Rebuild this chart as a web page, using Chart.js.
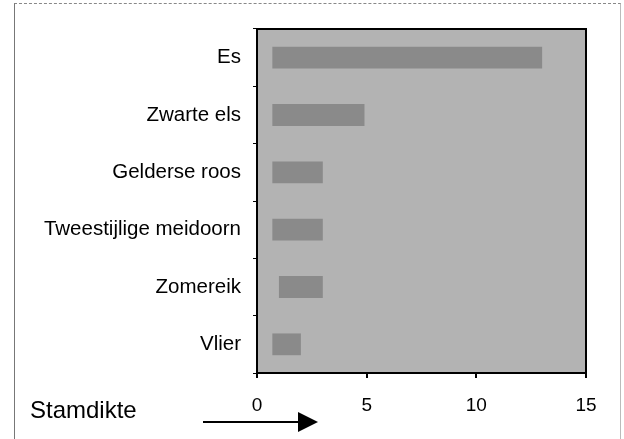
<!DOCTYPE html>
<html>
<head>
<meta charset="utf-8">
<script src="https://cdn.jsdelivr.net/npm/chart.js@4/dist/chart.umd.min.js"></script>
<style>
  html, body { margin: 0; padding: 0; background: #fff; }
  #wrap { position: relative; width: 624px; height: 439px; }
  #frame { position: absolute; left: 14px; top: 3px; width: 605px; height: 440px;
           border-left: 1px solid #777; border-top: 1px dashed #888; border-right: 1px solid #bbb; }
</style>
</head>
<body>
<div id="wrap">
  <div id="frame"></div>
  <canvas id="chart" width="624" height="439"></canvas>
</div>
<script>
// Soorten en stamdikte (begin - eind)
var soorten = ["Es", "Zwarte els", "Gelderse roos", "Tweestijlige meidoorn", "Zomereik", "Vlier"];
var stamStart = [0.7, 0.7, 0.7, 0.7, 1.0, 0.7];
var stamEind = [13, 4.9, 3, 3, 3, 2];
var xTicks = [0, 5, 10, 15];

var ranges = [];
for (var i = 0; i < soorten.length; i++) {
  ranges.push([stamStart[i], stamEind[i]]);
}

//Gray plot area, frame, and the "Stamdikte" arrow below the axis
var plotDecor = {
  id: 'plotDecor',
  beforeDatasetsDraw: function(chart) {
    var c = chart.ctx, a = chart.chartArea;
    c.save();
    c.fillStyle = '#b3b3b3';
    c.fillRect(a.left, a.top, a.right - a.left, a.bottom - a.top);
    c.restore();
  },
  afterDraw: function(chart) {
    var c = chart.ctx, a = chart.chartArea;
    c.save();
    c.strokeStyle = '#000';
    c.lineWidth = 2;
    c.strokeRect(a.left, a.top, a.right - a.left, a.bottom - a.top);

    c.fillStyle = '#000';
    c.font = '24px "Liberation Sans", Arial, sans-serif';
    c.textBaseline = 'middle';
    c.fillText('Stamdikte', 30, 411);

    c.lineWidth = 2;
    c.beginPath();
    c.moveTo(203, 422);
    c.lineTo(302, 422);
    c.stroke();
    c.beginPath();
    c.moveTo(298, 412);
    c.lineTo(318, 422);
    c.lineTo(298, 432);
    c.closePath();
    c.fill();
    c.restore();
  }
};

var ctx = document.getElementById('chart').getContext('2d');
var myChart = new Chart(ctx, {
  type: 'bar',
  data: {
    labels: soorten,
    datasets: [{
      label: 'Stamdikte',
      data: ranges,
      backgroundColor: '#8a8a8a',
      borderWidth: 0,
      barPercentage: 0.38,
      categoryPercentage: 1
    }]
  },
  options: {
    indexAxis: 'y',
    responsive: false,
    animation: false,
    layout: { padding: { left: 0, right: 38, top: 29, bottom: 16 } },
    plugins: { legend: { display: false }, tooltip: { enabled: false } },
    scales: {
      x: {
        min: 0,
        max: 15,
        afterBuildTicks: function(scale) {
          scale.ticks = xTicks.map(function(v) { return { value: v }; });
        },
        afterFit: function(scale) { scale.height = 50; },
        grid: { color: '#000', lineWidth: 2, tickLength: 5, drawTicks: true },
        border: { color: '#000', width: 2 },
        ticks: {
          color: '#000',
          padding: 16,
          font: { family: '"Liberation Sans", Arial, sans-serif', size: 19 }
        }
      },
      y: {
        afterFit: function(scale) { scale.width = 257; },
        grid: { drawOnChartArea: false, color: '#000', tickLength: 4, offset: true },
        border: { color: '#000', width: 2 },
        ticks: {
          color: '#000',
          padding: 12,
          font: { family: '"Liberation Sans", Arial, sans-serif', size: 20.5 }
        }
      }
    }
  },
  plugins: [plotDecor]
});
</script>
</body>
</html>
